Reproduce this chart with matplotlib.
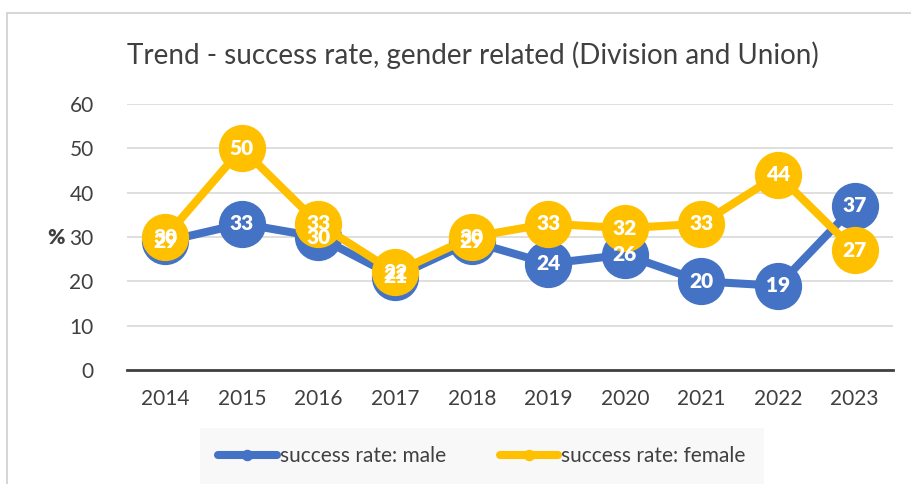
import matplotlib.pyplot as plt
from matplotlib.patches import Rectangle

years = ['2014', '2015', '2016', '2017', '2018', '2019', '2020', '2021', '2022', '2023']
male = [29, 33, 30, 21, 29, 24, 26, 20, 19, 37]
female = [30, 50, 33, 22, 30, 33, 32, 33, 44, 27]

blue = '#4472C4'
yellow = '#FFC000'
plt.rcParams['font.family'] = ['Lato', 'DejaVu Sans']

fig = plt.figure(figsize=(9.12, 4.84), dpi=100)
fig.patches.append(Rectangle((7/912, -0.1), 1.0, (484-13)/484 + 0.1, transform=fig.transFigure,
                             fill=False, edgecolor='#d0d0d0', lw=1.2))
ax = fig.add_axes([127/912, 1-370/484, (893-127)/912, (370-104)/484])

x = list(range(len(years)))
ax.plot(x, male, color=blue, lw=5.8, marker='o', ms=33, solid_capstyle='round',
        label='success rate: male', zorder=3)
ax.plot(x, female, color=yellow, lw=5.8, marker='o', ms=33, solid_capstyle='round',
        label='success rate: female', zorder=4)
for xi, v in zip(x, male):
    ax.text(xi, v, str(v), color='white', ha='center', va='center', fontsize=15, fontweight='heavy', zorder=6)
for xi, v in zip(x, female):
    ax.text(xi, v, str(v), color='white', ha='center', va='center', fontsize=15, fontweight='heavy', zorder=6)

ax.set_xlim(-0.5, 9.5)
ax.set_ylim(0, 60)
ax.set_yticks(range(0, 61, 10))
ax.set_xticks(x)
ax.set_xticklabels(years)
ax.grid(axis='y', color='#d9d9d9', lw=1.2)
ax.set_axisbelow(True)
for s in ['top', 'right', 'left']:
    ax.spines[s].set_visible(False)
ax.spines['bottom'].set_color('#404040')
ax.spines['bottom'].set_linewidth(2)
ax.spines['bottom'].set_zorder(2)
ax.tick_params(length=0, labelsize=15, colors='#404040', pad=14)
ax.tick_params(axis='y', pad=24)
ax.set_ylabel('%', rotation=0, fontsize=15, fontweight='heavy', color='#404040', labelpad=10, va='center')

fig.text(0.518, 1-55/484, 'Trend - success rate, gender related (Division and Union)',
         ha='center', va='center', fontsize=20, color='#404040')

leg = fig.legend(loc='center', bbox_to_anchor=(482/912, 1-456/484), ncol=2, frameon=True,
                 fontsize=15, markerscale=0.22, handlelength=2.8, columnspacing=2.6,
                 handletextpad=0.15, labelcolor='#404040')
leg.get_frame().set_facecolor('#f7f7f7')
leg.get_frame().set_edgecolor('none')
leg.get_frame().set_boxstyle('square', pad=0.45)

fig.savefig('out.png', dpi=100)
